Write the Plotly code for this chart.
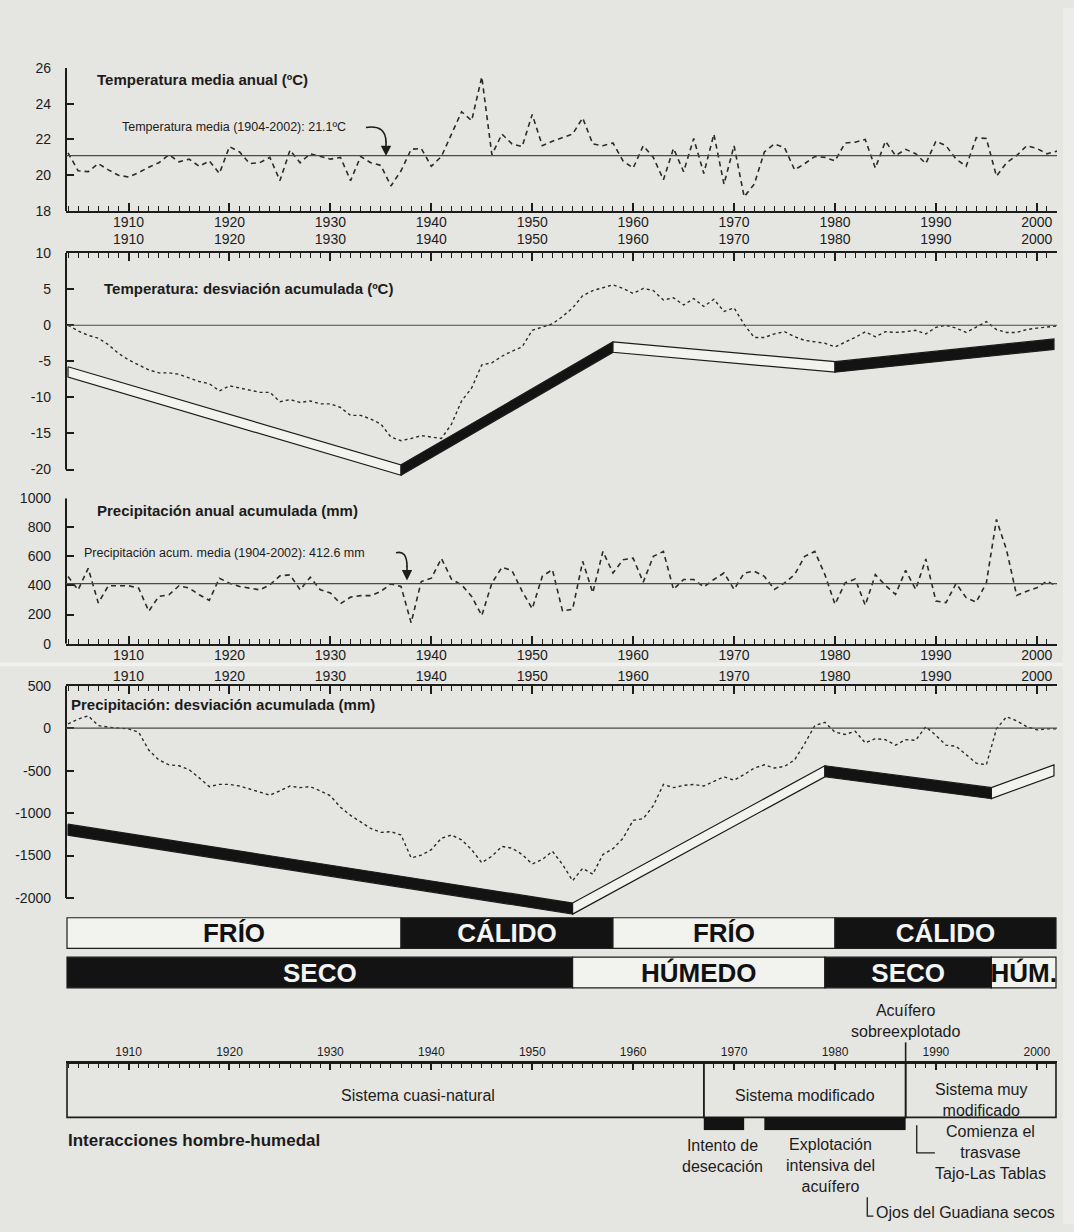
import plotly.graph_objects as go

W, H = 1074, 1232
BG = "#e5e5e1"
INK = "#1c1c1c"
LINE = "#2b2b2b"
REF = "#4a4a4a"
WHITE = "#f2f2ef"
BLACK = "#131313"
FONT = "Liberation Sans, Arial, Helvetica, sans-serif"

# ---------------- data ----------------
years = list(range(1904, 2003))

temp_annual = [
    21.25, 20.25, 20.2, 20.65, 20.3, 20.0,
    19.9, 20.15, 20.45, 20.7, 21.15, 20.75, 20.9, 20.5, 20.8, 20.1,
    21.6, 21.3, 20.65, 20.7, 21.0, 19.7, 21.4, 20.7, 21.2, 21.05,
    20.9, 21.0, 19.7, 21.05, 20.7, 20.55, 19.4, 20.25, 21.45, 21.5,
    20.5, 21.05, 22.3, 23.55, 23.05, 25.5, 21.15, 22.3, 21.75, 21.6,
    23.4, 21.65, 21.9, 22.1, 22.3, 23.2, 21.75, 21.65, 21.8, 20.8,
    20.4, 21.65, 21.0, 19.75, 21.5, 20.2, 22.05, 20.1, 22.3, 19.5,
    21.65, 18.8, 19.5, 21.3, 21.75, 21.55, 20.3, 20.65, 21.05, 21.0,
    20.8, 21.8, 21.85, 22.0, 20.4, 21.9, 21.1, 21.45, 21.2, 20.65,
    21.9, 21.65, 20.9, 20.5, 22.1, 22.05, 19.95, 20.7, 21.1, 21.65,
    21.5, 21.2, 21.35,
]

temp_cumdev = [
    0.0, -0.8, -1.4, -1.8, -2.7, -3.9,
    -4.8, -5.5, -6.2, -6.6, -6.6, -6.8, -7.3, -7.8, -8.1, -9.1,
    -8.4, -8.7, -9.1, -9.3, -9.3, -10.6, -10.3, -10.7, -10.5, -10.9,
    -10.9, -11.4, -12.5, -12.5, -13.0, -13.7, -15.5, -16.0, -15.7, -15.3,
    -15.5, -15.7, -13.7, -10.5, -8.7, -5.5, -5.2, -4.3, -3.6, -3.0,
    -0.7, -0.3, 0.2, 1.2, 2.4, 4.1, 4.8, 5.2, 5.6, 5.1,
    4.4, 5.1, 4.8, 3.5, 3.8, 2.8, 3.7, 2.6, 3.6, 1.9,
    2.4, 0.1, -1.7, -1.7, -1.2, -0.9, -1.6, -2.1, -2.3, -2.5,
    -3.0, -2.4, -1.7, -0.9, -1.6, -0.9, -1.0, -0.9, -0.7, -1.2,
    -0.3, 0.0, -0.4, -1.0, -0.2, 0.5, -0.6, -1.0, -1.0, -0.6,
    -0.4, -0.2, -0.1,
]

precip_annual = [
    461, 370, 518, 280, 398, 398,
    398, 382, 223, 325, 336, 398, 382, 336, 298, 450,
    416, 393, 382, 370, 405, 466, 473, 370, 457, 370,
    348, 275, 320, 330, 330, 360, 411, 393, 143, 427,
    450, 586, 443, 405, 325, 193, 416, 525, 502, 360,
    240, 463, 509, 225, 236, 566, 350, 634, 486, 577,
    588, 423, 600, 634, 373, 441, 441, 391, 441, 486,
    373, 486, 498, 463, 373, 418, 475, 600, 634, 475,
    270, 418, 445, 264, 475, 400, 339, 504, 373, 582,
    293, 282, 414, 316, 286, 418, 854, 645, 332, 361,
    384, 430, 395,
]

precip_cumdev = [
    50, 108, 146, 31, 12, 0,
    -8, -46, -258, -373, -431, -442, -488, -585, -688, -662,
    -662, -681, -719, -758, -788, -738, -681, -700, -688, -738,
    -796, -931, -1027, -1104, -1181, -1227, -1219, -1258, -1527, -1496,
    -1431, -1296, -1258, -1315, -1431, -1585, -1508, -1392, -1412, -1488,
    -1600, -1546, -1450, -1604, -1796, -1650, -1720, -1488, -1419, -1296,
    -1085, -1065, -912, -662, -700, -673, -662, -681, -623, -573,
    -612, -546, -469, -431, -469, -450, -373, -181, 31, 69,
    -46, -73, -35, -173, -123, -135, -200, -135, -142, 19,
    -85, -200, -212, -315, -412, -431, -8, 135, 88, 19,
    -19, -8, -8,
]

temp_mean = 21.1
precip_mean = 412.6

# trend ribbons (upper edge + thickness), fill per segment
temp_trend_years = [1904, 1937, 1958, 1980, 2001.7]
temp_trend_top = [-5.75, -19.35, -2.3, -5.05, -1.9]
temp_trend_thick = 1.45
temp_trend_fill = ["white", "black", "white", "black"]

precip_trend_years = [1904, 1954, 1979, 1995.5, 2001.7]
precip_trend_top = [-1130, -2060, -442, -700, -431]
precip_trend_thick = 130
precip_trend_fill = ["black", "white", "black", "white"]

# climate phases
temp_phase_bounds = [1903.9, 1937, 1958, 1980, 2001.9]
temp_phase_labels = ["FRÍO", "CÁLIDO", "FRÍO", "CÁLIDO"]
temp_phase_fill = ["white", "black", "white", "black"]
moist_phase_bounds = [1903.9, 1954, 1979, 1995.5, 2001.9]
moist_phase_labels = ["SECO", "HÚMEDO", "SECO", "HÚM."]
moist_phase_fill = ["black", "white", "black", "white"]

# human-wetland interactions
system_bounds = [1903.9, 1967, 1987, 2001.9]
system_labels = ["Sistema cuasi-natural", "Sistema modificado", "Sistema muy<br>modificado"]
event_starts = [1967, 1973]
event_ends = [1971, 1987]
event_labels = ["Intento de<br>desecación", "Explotación<br>intensiva del<br>acuífero"]

x_tick_vals = list(range(1910, 2001, 10))
x_tick_text = [str(v) for v in x_tick_vals]
t_ticks = [18, 20, 22, 24, 26]
td_ticks = [-20, -15, -10, -5, 0, 5, 10]
p_ticks = [0, 200, 400, 600, 800, 1000]
pd_ticks = [-2000, -1500, -1000, -500, 0, 500]

# ---------------- geometry helpers ----------------
X0, X1 = 1903.8, 2002.0
XDOM = [66 / W, 1057 / W]


def px_x(p):
    return p / W


def px_y(p):
    return 1 - p / H


def ydom(top, bot):
    return [1 - bot / H, 1 - top / H]


def fill_col(f):
    return BLACK if f == "black" else WHITE


fig = go.Figure()


def add_ribbon(xa, ya, yrs, top, thick, fills):
    for i in range(len(yrs) - 1):
        xs = [yrs[i], yrs[i + 1], yrs[i + 1], yrs[i], yrs[i]]
        ys = [top[i], top[i + 1], top[i + 1] - thick, top[i] - thick, top[i]]
        fig.add_trace(go.Scatter(
            x=xs, y=ys, xaxis=xa, yaxis=ya, mode="lines", fill="toself",
            fillcolor=fill_col(fills[i]), line=dict(color=INK, width=1.2),
            hoverinfo="skip", showlegend=False))


add_ribbon("x2", "y2", temp_trend_years, temp_trend_top, temp_trend_thick, temp_trend_fill)
add_ribbon("x4", "y4", precip_trend_years, precip_trend_top, precip_trend_thick, precip_trend_fill)

fig.add_trace(go.Scatter(x=years, y=temp_annual, xaxis="x", yaxis="y", mode="lines",
                         line=dict(color=LINE, width=1.6, dash="5px,4px"), showlegend=False))
fig.add_trace(go.Scatter(x=years, y=temp_cumdev, xaxis="x2", yaxis="y2", mode="lines",
                         line=dict(color=LINE, width=1.4, dash="3px,3px"), showlegend=False))
fig.add_trace(go.Scatter(x=years, y=precip_annual, xaxis="x3", yaxis="y3", mode="lines",
                         line=dict(color=LINE, width=1.6, dash="5px,4px"), showlegend=False))
fig.add_trace(go.Scatter(x=years, y=precip_cumdev, xaxis="x4", yaxis="y4", mode="lines",
                         line=dict(color=LINE, width=1.4, dash="3px,3px"), showlegend=False))

# climate phase bars
for row, bounds, labels, fills in [
    (1, temp_phase_bounds, temp_phase_labels, temp_phase_fill),
    (0, moist_phase_bounds, moist_phase_labels, moist_phase_fill),
]:
    n = len(labels)
    fig.add_trace(go.Bar(
        orientation="h", y=[row] * n, base=bounds[:-1],
        x=[b - a for a, b in zip(bounds[:-1], bounds[1:])],
        width=0.775, xaxis="x5", yaxis="y5",
        marker=dict(color=[fill_col(f) for f in fills], line=dict(color=INK, width=1.2)),
        text=[f"<b>{t}</b>" for t in labels], textposition="inside",
        insidetextanchor="middle", constraintext="none", textangle=0,
        textfont=dict(family=FONT, size=26,
                      color=["#f4f4f4" if f == "black" else "#111111" for f in fills]),
        hoverinfo="skip", showlegend=False))

# timeline box
fig.add_trace(go.Bar(
    orientation="h", y=[40.5] * (len(system_bounds) - 1), base=system_bounds[:-1],
    x=[b - a for a, b in zip(system_bounds[:-1], system_bounds[1:])],
    width=55, xaxis="x6", yaxis="y6",
    marker=dict(color="rgba(0,0,0,0)", line=dict(color=INK, width=1.6)),
    hoverinfo="skip", showlegend=False))
fig.add_trace(go.Bar(
    orientation="h", y=[6.5] * len(event_starts), base=event_starts,
    x=[b - a for a, b in zip(event_starts, event_ends)],
    width=13, xaxis="x6", yaxis="y6",
    marker=dict(color=BLACK, line=dict(color=BLACK, width=0)),
    hoverinfo="skip", showlegend=False))


# ---------------- axes ----------------
def xaxis(anchor, side, standoff, dom=XDOM, size=14, visible=True):
    return dict(
        range=[X0, X1], domain=dom, anchor=anchor, side=side, visible=visible,
        showline=True, linecolor=INK, linewidth=2, mirror=False,
        ticks="inside", ticklen=8, tickwidth=1.6, tickcolor=INK,
        tickvals=x_tick_vals, ticktext=x_tick_text,
        minor=dict(tickmode="linear", tick0=1904, dtick=1, ticks="inside",
                   ticklen=5, tickwidth=1.2, tickcolor=INK),
        showgrid=False, zeroline=False, ticklabelstandoff=standoff,
        tickfont=dict(family=FONT, size=size, color=INK), fixedrange=True)


def yaxis(anchor, dom, rng, vals):
    return dict(
        range=rng, domain=dom, anchor=anchor, showline=False,
        ticks="inside", ticklen=8, tickwidth=2, tickcolor=INK,
        tickvals=vals, ticktext=[str(v) for v in vals],
        showgrid=False, zeroline=False, ticklabelstandoff=14,
        tickfont=dict(family=FONT, size=14, color=INK), fixedrange=True)


layout = dict(
    autosize=True, margin=dict(l=0, r=0, t=0, b=0),
    paper_bgcolor=BG, plot_bgcolor="rgba(0,0,0,0)", barmode="overlay",
    showlegend=False, font=dict(family=FONT, color=INK),
    xaxis=xaxis("y", "bottom", -3),
    xaxis2=xaxis("y2", "top", 1),
    xaxis3=xaxis("y3", "bottom", -2),
    xaxis4=xaxis("y4", "top", -3),
    xaxis5=xaxis("y5", "bottom", 0, visible=False),
    xaxis6=xaxis("y6", "top", 1, size=12),
    yaxis=yaxis("x", ydom(60.7, 205.7), [18, 26], t_ticks),
    yaxis2=yaxis("x2", ydom(248.3, 477.1), [-21.3, 10], td_ticks),
    yaxis3=yaxis("x3", ydom(496.7, 644), [0, 1000], p_ticks),
    yaxis4=yaxis("x4", ydom(686.7, 923.2), [-2250, 500], pd_ticks),
    yaxis5=dict(range=[-0.5, 1.5], domain=ydom(917.2, 997.2), anchor="x5", visible=False, fixedrange=True),
    yaxis6=dict(range=[0, 68], domain=ydom(1069, 1137), anchor="x6", visible=False, fixedrange=True),
)
layout["xaxis6"]["linewidth"] = 1.6
layout["xaxis6"]["ticklen"] = 7
fig.update_layout(**layout)

# ---------------- shapes ----------------
shapes = []
# scan artefacts of the source: light strip across and lighter right edge
shapes.append(dict(type="rect", xref="paper", yref="paper", x0=0, x1=1, y0=px_y(667), y1=px_y(663),
                   fillcolor="#f1f1ef", line=dict(width=0), layer="below"))
shapes.append(dict(type="rect", xref="paper", yref="paper", x0=px_x(1063), x1=1, y0=0, y1=1,
                   fillcolor="#ececea", line=dict(width=0), layer="below"))
# left spines
for xr, yr, lo, hi in [("x", "y", 18, 26), ("x2", "y2", -20, 10), ("x3", "y3", 0, 1000), ("x4", "y4", -2000, 500)]:
    shapes.append(dict(type="line", xref=f"{xr} domain", x0=0, x1=0, yref=yr, y0=lo, y1=hi,
                       line=dict(color=INK, width=2)))
# reference lines
for xr, yr, v in [("x", "y", temp_mean), ("x2", "y2", 0), ("x3", "y3", precip_mean), ("x4", "y4", 0)]:
    shapes.append(dict(type="line", xref=f"{xr} domain", x0=0, x1=1, yref=yr, y0=v, y1=v,
                       line=dict(color=REF, width=1.2)))
# curved arrow leaders
for (sx, sy, cx, cy, ex, ey) in [(366, 121, 386, 118, 386, 136), (396, 552, 407, 549, 407, 566)]:
    shapes.append(dict(type="path", xref="paper", yref="paper",
                       path=f"M {px_x(sx)},{px_y(sy)} Q {px_x(cx)},{px_y(cy)} {px_x(ex)},{px_y(ey)}",
                       line=dict(color=INK, width=1.6)))
# divider line above box (acuifero sobreexplotado)
shapes.append(dict(type="line", xref="x6", x0=1987, x1=1987, yref="paper", y0=px_y(1048), y1=px_y(1069),
                   line=dict(color=INK, width=1.6)))
# L connectors
for (vx, vy0, vy1, hx) in [(1988.1, 1132, 1160, 1989.9), (1983.2, 1205, 1224, 1983.8)]:
    shapes.append(dict(type="path", xref="x6", yref="paper",
                       path=f"M {vx},{px_y(vy0)} L {vx},{px_y(vy1)} L {hx},{px_y(vy1)}",
                       line=dict(color=INK, width=1.3)))
fig.update_layout(shapes=shapes)

# ---------------- annotations ----------------
anns = []


def ann(text, x, y, size, bold=False, xanchor="left", xref="paper", align="left", color=INK):
    anns.append(dict(text=f"<b>{text}</b>" if bold else text, x=x, y=px_y(y), xref=xref, yref="paper",
                     xanchor=xanchor, yanchor="middle", showarrow=False, align=align,
                     font=dict(family=FONT, size=size, color=color)))


ann("Temperatura media anual (ºC)", px_x(95), 72, 15, bold=True)
ann("Temperatura: desviación acumulada (ºC)", px_x(102), 284, 15, bold=True)
ann("Precipitación anual acumulada (mm)", px_x(95), 509, 15, bold=True)
ann("Precipitación: desviación acumulada (mm)", px_x(69), 706, 15, bold=True)
ann(f"Temperatura media (1904-2002): {temp_mean}ºC", px_x(120), 121, 12.5)
ann(f"Precipitación acum. media (1904-2002): {precip_mean} mm", px_x(82), 552, 12.5)

# arrow heads
for (x, y) in [(386, 150), (407, 580)]:
    anns.append(dict(x=px_x(x), y=px_y(y), xref="paper", yref="paper", text="", showarrow=True,
                     ax=0, ay=-16, arrowhead=2, arrowsize=1.3, arrowwidth=1.6, arrowcolor=INK))

# timeline texts
ann(system_labels[0], 1938.7, 1102, 16, xanchor="center", xref="x6", align="center")
ann(system_labels[1], 1977.0, 1102, 16, xanchor="center", xref="x6", align="center")
ann(system_labels[2], 1994.5, 1106, 16, xanchor="center", xref="x6", align="center")
ann(event_labels[0], 1968.9, 1163, 16, xanchor="center", xref="x6", align="center")
ann(event_labels[1], 1979.6, 1173, 16, xanchor="center", xref="x6", align="center")
ann("Comienza el<br>trasvase<br>Tajo-Las Tablas", 1995.4, 1160, 16, xanchor="center", xref="x6", align="center")
ann("Ojos del Guadiana secos", 1983.9, 1220, 16, xanchor="left", xref="x6")
ann("Acuífero<br>sobreexplotado", 1987.0, 1026, 16, xanchor="center", xref="x6", align="center")
ann("Interacciones hombre-humedal", px_x(66), 1147, 17, bold=True)

fig.update_layout(annotations=anns)

# the graph div is pinned to the page corner so the page is exactly W x H
fig.write_html("out.html", config={"displayModeBar": False},
               default_width=f"{W}px; position:absolute; left:0; top:0",
               default_height=f"{H}px",
               post_script="document.body.style.margin='0';")
